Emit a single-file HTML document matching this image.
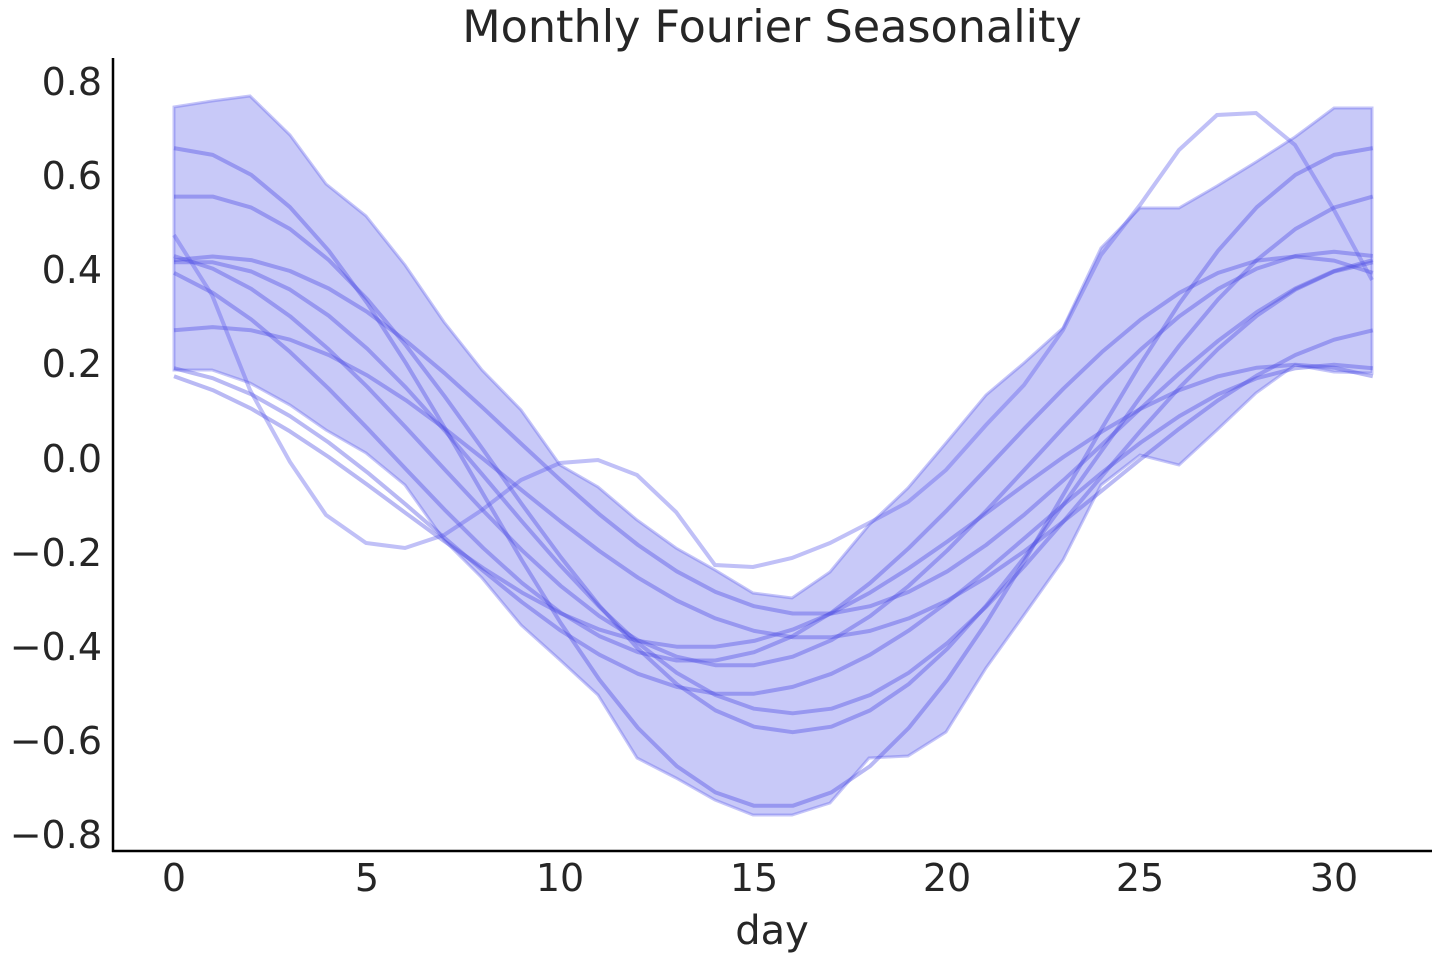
<!DOCTYPE html>
<html><head><meta charset="utf-8"><style>
body{margin:0;background:#fff;}
svg text{font-family:"DejaVu Sans","Liberation Sans",sans-serif;fill:#262626;}
</style></head><body>
<svg id="s" width="1440" height="960" xmlns="http://www.w3.org/2000/svg">
<polygon fill="#c8c9f8" stroke="rgba(90,90,235,0.35)" stroke-width="3" points="174,107 212,101 250,96 290,135 326,184 366,216 405,265 444,322 482,370 521,410 560,465 598,487 637,520 676,548 715,570 753,593 792,598 830,572 869,525 908,488 946,443 986,395 1024,363 1063,328 1101,248 1140,208 1179,208 1217,186 1256,162 1295,137 1334,108 1372,108 1372,373 1334,372 1295,365 1256,393 1217,430 1179,465 1140,455 1101,485 1063,560 1024,615 986,668 946,732 908,756 869,758 830,803 792,815 753,815 715,800 676,778 637,758 598,695 560,660 521,625 482,578 444,540 405,485 366,453 326,430 290,405 250,383 212,370 174,370"/>
<g id="lines" fill="none" stroke="rgba(70,70,225,0.38)" stroke-width="4" stroke-linejoin="round"></g>
<polyline fill="none" stroke="rgba(90,90,235,0.38)" stroke-width="4" points="174,235 212,295 250,390 290,462 326,515 366,543 405,548 444,535 482,510 521,480 560,463 598,460 637,475 676,512 715,565 753,567 792,558 830,543 869,523 908,502 946,470 986,425 1024,385 1063,330 1101,255 1140,205 1179,150 1217,115 1256,113 1295,145 1334,210 1372,280"/>
<line x1="113" y1="58" x2="113" y2="852" stroke="#000" stroke-width="2.5"/>
<line x1="112" y1="851" x2="1432" y2="851" stroke="#000" stroke-width="2.5"/>
<text x="772" y="42" font-size="44.5" text-anchor="middle">Monthly Fourier Seasonality</text>
<text x="772" y="944" font-size="40" text-anchor="middle">day</text>
<g font-size="38" text-anchor="middle">
<text x="174" y="891">0</text><text x="367" y="891">5</text><text x="560" y="891">10</text><text x="754" y="891">15</text><text x="947" y="891">20</text><text x="1140" y="891">25</text><text x="1334" y="891">30</text>
</g>
<g font-size="38" text-anchor="end">
<text x="102" y="95">0.8</text><text x="102" y="189">0.6</text><text x="102" y="283">0.4</text><text x="102" y="377">0.2</text><text x="102" y="472">0.0</text><text x="102" y="566">−0.2</text><text x="102" y="660">−0.4</text><text x="102" y="754">−0.6</text><text x="102" y="848">−0.8</text>
</g>
</svg>
<script>
var P=[[-0.04,0.70,0],[-0.01,0.57,0.5],[0,0.44,-1],[-0.06,0.48,0.5],[-0.05,0.33,1],[-0.15,0.35,-1],[-0.1,0.3,-2],[-0.0,0.43,-2],[0.05,0.38,1]];
var g=document.getElementById('lines'),h='';
P.forEach(function(p){var pts=[];for(var t=0;t<=31;t++){var v=p[0]+p[1]*Math.cos(2*Math.PI*(t-p[2])/31);pts.push((174+38.67*t).toFixed(1)+','+(459-471*v).toFixed(1));}
h+='<polyline points="'+pts.join(' ')+'"/>';});
g.innerHTML=h;
</script>
</body></html>
